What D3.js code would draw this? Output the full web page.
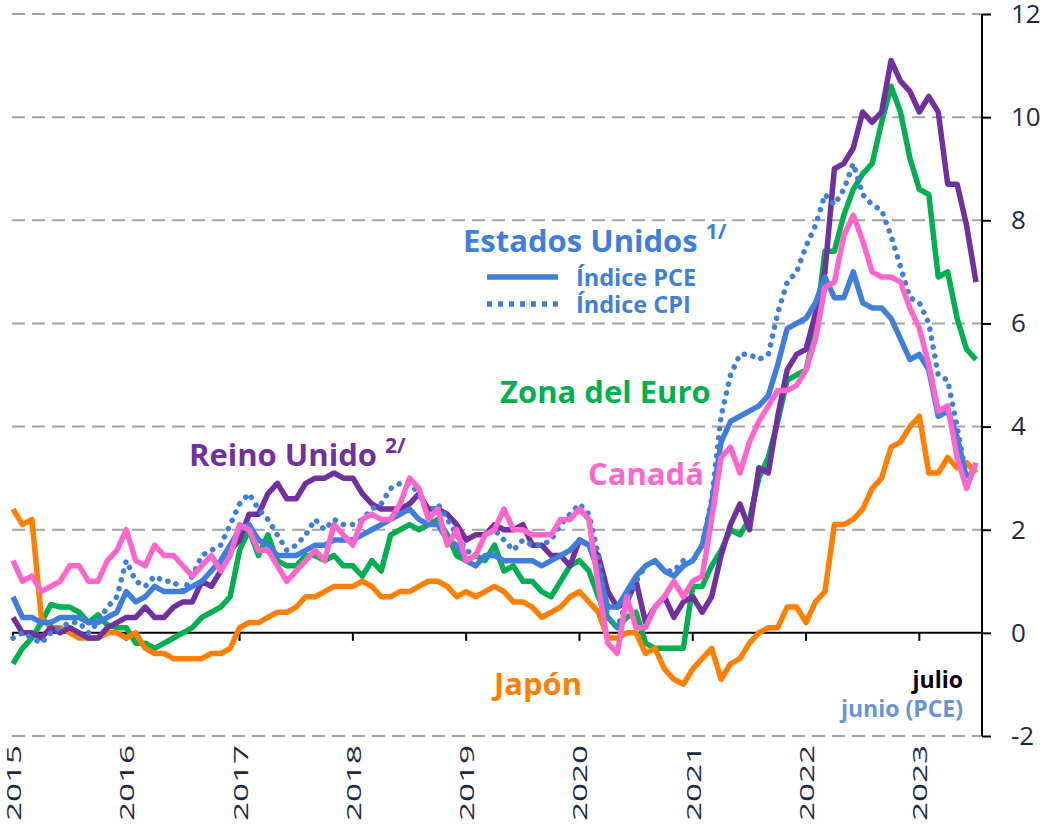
<!DOCTYPE html>
<html>
<head>
<meta charset="utf-8">
<script src="https://cdn.jsdelivr.net/npm/d3@7"></script>
<style>
  body { margin: 0; background: #fff; }
  svg { display: block; font-family: "Open Sans", sans-serif; }
</style>
</head>
<body>
<div id="chart"></div>
<script>
// monthly y/y inflation, Jan 2015 .. Jul 2023 (PCE to Jun 2023)
var years = ['2015', '2016', '2017', '2018', '2019', '2020', '2021', '2022', '2023'];
var yTicks = [-2, 0, 2, 4, 6, 8, 10, 12];

var japon = [
  2.4, 2.1, 2.2, 0.3, 0.1, 0.1, 0.0, -0.1, -0.1, -0.1, 0.0, 0.0,
  -0.1, 0.0, -0.3, -0.4, -0.4, -0.5, -0.5, -0.5, -0.5, -0.4, -0.4, -0.3,
  0.1, 0.2, 0.2, 0.3, 0.4, 0.4, 0.5, 0.7, 0.7, 0.8, 0.9, 0.9,
  0.9, 1.0, 0.9, 0.7, 0.7, 0.8, 0.8, 0.9, 1.0, 1.0, 0.9, 0.7,
  0.8, 0.7, 0.8, 0.9, 0.8, 0.6, 0.6, 0.5, 0.3, 0.4, 0.5, 0.7,
  0.8, 0.6, 0.4, -0.1, -0.1, 0.0, 0.0, -0.4, -0.3, -0.7, -0.9, -1.0,
  -0.7, -0.5, -0.3, -0.9, -0.6, -0.5, -0.2, 0.0, 0.1, 0.1, 0.5, 0.5,
  0.2, 0.6, 0.8, 2.1, 2.1, 2.2, 2.4, 2.8, 3.0, 3.6, 3.7, 4.0,
  4.2, 3.1, 3.1, 3.4, 3.2, 3.3, 3.1
];
var euro = [
  -0.6, -0.3, -0.1, 0.2, 0.55, 0.5, 0.5, 0.4, 0.2, 0.35, 0.15, 0.1,
  0.1, -0.2, -0.2, -0.3, -0.2, -0.1, 0.0, 0.1, 0.3, 0.4, 0.5, 0.7,
  1.6, 2.0, 1.5, 1.9, 1.4, 1.3, 1.3, 1.5, 1.5, 1.4, 1.5, 1.3,
  1.3, 1.1, 1.4, 1.2, 1.9, 2.0, 2.1, 2.0, 2.1, 2.2, 1.9, 1.5,
  1.4, 1.5, 1.4, 1.7, 1.2, 1.3, 1.0, 1.0, 0.8, 0.7, 1.0, 1.3,
  1.4, 1.2, 0.7, 0.3, 0.1, 0.3, 0.4, -0.2, -0.3, -0.3, -0.3, -0.3,
  0.9, 0.9, 1.3, 1.6, 2.0, 1.9, 2.2, 3.0, 3.4, 4.1, 4.9, 5.0,
  5.1, 5.9, 7.4, 7.4, 8.1, 8.6, 8.9, 9.1, 9.9, 10.6, 10.1, 9.2,
  8.6, 8.5, 6.9, 7.0, 6.1, 5.5, 5.3
];
var reinoUnido = [
  0.3, 0.0, 0.0, -0.1, 0.1, 0.0, 0.1, 0.0, -0.1, -0.1, 0.1, 0.2,
  0.3, 0.3, 0.5, 0.3, 0.3, 0.5, 0.6, 0.6, 1.0, 0.9, 1.2, 1.6,
  1.8, 2.3, 2.3, 2.7, 2.9, 2.6, 2.6, 2.9, 3.0, 3.0, 3.1, 3.0,
  3.0, 2.7, 2.5, 2.4, 2.4, 2.4, 2.5, 2.7, 2.4, 2.4, 2.3, 2.1,
  1.8, 1.9, 1.9, 2.1, 2.0, 2.0, 2.1, 1.7, 1.7, 1.5, 1.5, 1.3,
  1.8, 1.7, 1.5, 0.8, 0.5, 0.6, 1.0, 0.2, 0.5, 0.7, 0.3, 0.6,
  0.7, 0.4, 0.7, 1.5, 2.1, 2.5, 2.0, 3.2, 3.1, 4.2, 5.1, 5.4,
  5.5, 6.2, 7.0, 9.0, 9.1, 9.4, 10.1, 9.9, 10.1, 11.1, 10.7, 10.5,
  10.1, 10.4, 10.1, 8.7, 8.7, 7.9, 6.8
];
var canada = [
  1.4, 1.0, 1.1, 0.8, 0.9, 1.0, 1.3, 1.3, 1.0, 1.0, 1.4, 1.6,
  2.0, 1.4, 1.3, 1.7, 1.5, 1.5, 1.3, 1.1, 1.3, 1.5, 1.2, 1.5,
  2.1, 2.0, 1.6, 1.6, 1.3, 1.0, 1.2, 1.4, 1.6, 1.4, 2.1, 1.9,
  1.7, 2.2, 2.3, 2.2, 2.2, 2.5, 3.0, 2.8, 2.2, 2.4, 1.7, 2.0,
  1.4, 1.5, 1.9, 2.0, 2.4, 2.0, 2.0, 1.9, 1.9, 1.9, 2.2, 2.2,
  2.4, 2.2, 0.9, -0.2, -0.4, 0.7, 0.1, 0.1, 0.5, 0.7, 1.0, 0.7,
  1.0, 1.1, 2.2, 3.4, 3.6, 3.1, 3.7, 4.1, 4.4, 4.7, 4.7, 4.8,
  5.1, 5.7, 6.7, 6.8, 7.7, 8.1, 7.6, 7.0, 6.9, 6.9, 6.8, 6.3,
  5.9, 5.2, 4.3, 4.4, 3.4, 2.8, 3.3
];
var eeuuCPI = [
  -0.1, 0.0, -0.1, -0.2, 0.0, 0.1, 0.2, 0.2, 0.0, 0.2, 0.5, 0.7,
  1.4, 1.0, 0.9, 1.1, 1.0, 1.0, 0.8, 1.1, 1.5, 1.6, 1.7, 2.1,
  2.5, 2.7, 2.4, 2.2, 1.9, 1.6, 1.7, 1.9, 2.2, 2.0, 2.2, 2.1,
  2.1, 2.2, 2.4, 2.5, 2.8, 2.9, 2.9, 2.7, 2.3, 2.5, 2.2, 1.9,
  1.6, 1.5, 1.9, 2.0, 1.8, 1.6, 1.8, 1.7, 1.7, 1.8, 2.1, 2.3,
  2.5, 2.3, 1.5, 0.3, 0.1, 0.6, 1.0, 1.3, 1.4, 1.2, 1.2, 1.4,
  1.4, 1.7, 2.6, 4.2, 5.0, 5.4, 5.4, 5.3, 5.4, 6.2, 6.8, 7.0,
  7.5, 7.9, 8.5, 8.3, 8.6, 9.1, 8.5, 8.3, 8.2, 7.7, 7.1, 6.5,
  6.4, 6.0, 5.0, 4.9, 4.0, 3.0, 3.2
];
var eeuuPCE = [
  0.7, 0.3, 0.3, 0.2, 0.2, 0.3, 0.3, 0.3, 0.2, 0.2, 0.3, 0.4,
  0.8, 0.6, 0.7, 0.9, 0.8, 0.8, 0.8, 0.9, 1.0, 1.2, 1.4, 1.7,
  2.0, 2.1, 1.8, 1.7, 1.5, 1.5, 1.5, 1.6, 1.7, 1.7, 1.8, 1.8,
  1.8, 1.9, 2.0, 2.1, 2.2, 2.3, 2.4, 2.2, 2.1, 2.1, 1.8, 1.7,
  1.4, 1.3, 1.5, 1.5, 1.4, 1.4, 1.4, 1.4, 1.3, 1.4, 1.5, 1.6,
  1.8, 1.7, 1.2, 0.5, 0.5, 0.8, 1.1, 1.3, 1.4, 1.2, 1.1, 1.3,
  1.4, 1.7, 2.5, 3.7, 4.1, 4.2, 4.3, 4.4, 4.6, 5.2, 5.9, 6.0,
  6.1, 6.4, 6.9, 6.5, 6.5, 7.0, 6.4, 6.3, 6.3, 6.1, 5.7, 5.3,
  5.4, 5.1, 4.2, 4.3, 3.8, 3.0
];

var W = 1050, H = 825;
var svg = d3.select('#chart').append('svg')
    .attr('width', W)
    .attr('height', H);

// month index -> x
var x = d3.scaleLinear().domain([0, 102]).range([13, 976]);
var y = d3.scaleLinear().domain([-2, 12]).range([736, 14]);
var xLeft = 12, xRight = 982;

// dashed grid
svg.append('g').selectAll('line')
    .data(yTicks.filter(function(d) { return d !== 0; }))
  .enter().append('line')
    .attr('x1', xLeft).attr('x2', xRight)
    .attr('y1', function(d) { return y(d); })
    .attr('y2', function(d) { return y(d); })
    .attr('stroke', '#a3a3a3')
    .attr('stroke-width', 2)
    .attr('stroke-dasharray', '13,7');

// zero line + year ticks
svg.append('line')
    .attr('x1', xLeft).attr('x2', xRight)
    .attr('y1', y(0)).attr('y2', y(0))
    .attr('stroke', '#000').attr('stroke-width', 2);
svg.append('g').selectAll('line')
    .data(years)
  .enter().append('line')
    .attr('x1', function(d, i) { return x(i * 12); })
    .attr('x2', function(d, i) { return x(i * 12); })
    .attr('y1', y(0)).attr('y2', y(0) + 8)
    .attr('stroke', '#000').attr('stroke-width', 2);

// year labels (vertical)
svg.append('g').selectAll('text')
    .data(years)
  .enter().append('text')
    .attr('transform', function(d, i) {
      return 'translate(' + (x(i * 12) + 8) + ',821) rotate(-90)';
    })
    .attr('textLength', 76)
    .attr('lengthAdjust', 'spacingAndGlyphs')
    .attr('font-size', 20)
    .attr('fill', '#1b2a47')
    .text(function(d) { return d; });

// right axis
var yAxis = d3.axisRight(y).tickValues(yTicks).tickSize(9).tickPadding(20)
    .tickFormat(function(d) { return String(d); });
var ga = svg.append('g')
    .attr('transform', 'translate(' + xRight + ',0)')
    .call(yAxis);
ga.select('.domain').attr('stroke', '#000').attr('stroke-width', 2)
    .attr('d', 'M0,' + y(12) + 'V' + y(-2));
ga.selectAll('.tick line').attr('stroke', '#000').attr('stroke-width', 2);
ga.selectAll('.tick text')
    .attr('font-family', '"Open Sans", sans-serif')
    .attr('font-size', 26)
    .attr('fill', '#1b2a47');

// series
var line = d3.line()
    .x(function(d, i) { return x(i); })
    .y(function(d) { return y(d); });

var series = [
  { values: euro, color: '#00b050' },
  { values: japon, color: '#ff7f00' },
  { values: reinoUnido, color: '#7030a0' },
  { values: eeuuCPI, color: '#3f7fdb', dotted: true },
  { values: eeuuPCE, color: '#3f7fdb' },
  { values: canada, color: '#ff66cc' }
];

svg.append('g').selectAll('path')
    .data(series)
  .enter().append('path')
    .attr('d', function(d) { return line(d.values); })
    .attr('fill', 'none')
    .attr('stroke', function(d) { return d.color; })
    .attr('stroke-width', 5.5)
    .attr('stroke-linejoin', 'round')
    .attr('stroke-linecap', function(d) { return d.dotted ? 'round' : 'butt'; })
    .attr('stroke-dasharray', function(d) { return d.dotted ? '0.1,9' : null; });

// labels
function label(txt, sup, px, py, color, size) {
  var t = svg.append('text')
      .attr('x', px).attr('y', py)
      .attr('fill', color)
      .attr('font-weight', 700)
      .attr('font-size', size)
      .text(txt);
  if (sup) {
    t.append('tspan').attr('font-size', 21).attr('dx', 8).attr('dy', -13).text(sup);
  }
  return t;
}
label('Estados Unidos', '1/', 463, 252, '#3f7fdb', 31);
label('Zona del Euro', null, 500, 403, '#00b050', 31);
label('Reino Unido', '2/', 189, 466, '#7030a0', 31);
label('Canadá', null, 588, 485, '#ff66cc', 31);
label('Japón', null, 494, 695, '#ff7f00', 31);

// US legend
svg.append('line').attr('x1', 487).attr('x2', 558).attr('y1', 277).attr('y2', 277)
    .attr('stroke', '#3f7fdb').attr('stroke-width', 5.5);
svg.append('line').attr('x1', 487).attr('x2', 561).attr('y1', 304).attr('y2', 304)
    .attr('stroke', '#3f7fdb').attr('stroke-width', 5.5)
    .attr('stroke-dasharray', '5,6');
label('Índice PCE', null, 576, 286, '#3f7fdb', 23.5);
label('Índice CPI', null, 576, 313, '#3f7fdb', 23.5);

label('julio', null, 963, 688, '#000', 23).attr('text-anchor', 'end');
label('junio (PCE)', null, 963, 717, '#6a93d6', 23).attr('text-anchor', 'end');
</script>
</body>
</html>
